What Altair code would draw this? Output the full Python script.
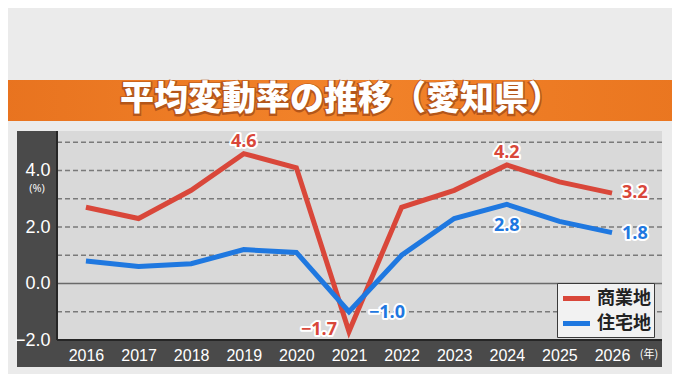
import altair as alt
import pandas as pd

# ---- data ----
years = [2016, 2017, 2018, 2019, 2020, 2021, 2022, 2023, 2024, 2025, 2026]
commercial = [2.7, 2.3, 3.3, 4.6, 4.1, -1.7, 2.7, 3.3, 4.2, 3.6, 3.2]   # 商業地
residential = [0.8, 0.6, 0.7, 1.2, 1.1, -1.0, 1.0, 2.3, 2.8, 2.2, 1.8]  # 住宅地
series_names = ["商業地", "住宅地"]
series_colors = ["#d9473a", "#1f78e0"]
y_label_values = [-2, 0, 2, 4]
grid_values = [-1, 1, 2, 3, 4, 5]
title_text = "平均変動率の推移（愛知県）"
y_unit = "(%)"
x_unit = "(年)"

# labelled points per series
red_above = [2019, 2024]
red_left = [2021]
red_right = [2026]
blue_right_far = [2021]
blue_right = [2026]
blue_below = [2024]

# ---- tables ----
df = pd.concat([
    pd.DataFrame({"year": years, "value": commercial, "series": series_names[0]}),
    pd.DataFrame({"year": years, "value": residential, "series": series_names[1]}),
], ignore_index=True)
grid_df = pd.DataFrame({"value": grid_values})
one = pd.DataFrame({"a": [0]})

W, H = 605, 209
NUM_FONT = "Liberation Sans Narrow, Liberation Sans, sans-serif"
JP_FONT = "Noto Sans CJK JP"
LBL_FONT = "Open Sans, Noto Sans, sans-serif"

x_scale = alt.Scale(domain=[2015.45, 2026.95], nice=False, zero=False)
y_scale = alt.Scale(domain=[-2, 5.4], nice=False, zero=False)
x_axis = alt.Axis(values=years, format="d", title=None, zindex=2, domain=False, ticks=False,
                  grid=False, labelColor="#ffffff", labelFont=NUM_FONT, labelFontSize=16,
                  labelPadding=7, labelFlush=False)
y_axis = alt.Axis(values=y_label_values, format=".1f", title=None, zindex=2, domain=False,
                  ticks=False, grid=False, labelColor="#ffffff", labelFont=NUM_FONT,
                  labelFontSize=18, labelPadding=7, labelFlush=False)


def X(field="year"):
    return alt.X(f"{field}:Q", scale=x_scale, axis=x_axis)


def Y(field="value"):
    return alt.Y(f"{field}:Q", scale=y_scale, axis=y_axis)


# ---- decoration ----
frame_left = alt.Chart(one).mark_rect(color="#4a4a4a").encode(
    x=alt.value(-40), x2=alt.value(0), y=alt.value(0), y2=alt.value(236))
frame_bottom = alt.Chart(one).mark_rect(color="#4a4a4a").encode(
    x=alt.value(-40), x2=alt.value(W), y=alt.value(H), y2=alt.value(236))
border_left = alt.Chart(one).mark_rule(color="#262626", strokeWidth=2).encode(
    x=alt.value(0), y=alt.value(0), y2=alt.value(H))
border_bottom = alt.Chart(one).mark_rule(color="#262626", strokeWidth=2).encode(
    x=alt.value(0), x2=alt.value(W), y=alt.value(H))
banner = alt.Chart(one).mark_rect(
    fill={"gradient": "linear", "x1": 0, "y1": 0, "x2": 1, "y2": 0,
          "stops": [{"offset": 0, "color": "#e8731f"},
                    {"offset": 0.5, "color": "#f2832a"},
                    {"offset": 1, "color": "#ea7620"}]}
).encode(x=alt.value(-60), x2=alt.value(W + 20), y=alt.value(-51), y2=alt.value(-10))
title_shadow = alt.Chart(one).mark_text(
    text=title_text, font=JP_FONT, fontSize=34, fontWeight=900,
    fill="#b4561a", stroke="#b4561a", strokeWidth=3, align="center", baseline="middle"
).encode(x=alt.value(284), y=alt.value(-30))
title = alt.Chart(one).mark_text(
    text=title_text, font=JP_FONT, fontSize=34, fontWeight=900,
    color="#ffffff", align="center", baseline="middle"
).encode(x=alt.value(284), y=alt.value(-31))
unit_y = alt.Chart(one).mark_text(
    text=y_unit, font=LBL_FONT, fontSize=11, color="#ffffff", align="center", baseline="middle"
).encode(x=alt.value(-20), y=alt.value(58))
unit_x = alt.Chart(one).mark_text(
    text=x_unit, font=JP_FONT, fontSize=11, color="#ffffff", align="center", baseline="middle"
).encode(x=alt.value(592), y=alt.value(224))

# ---- grid ----
grid = alt.Chart(grid_df).mark_rule(color="#7a7a7a", strokeWidth=1.5, strokeDash=[5, 3]).encode(y=Y())
zero = alt.Chart(pd.DataFrame({"value": [0]})).mark_rule(color="#6a6a6a", strokeWidth=1.5).encode(y=Y())

# ---- series ----
lines = alt.Chart(df).mark_line(strokeWidth=5, strokeCap="butt").encode(
    x=X(), y=Y(),
    color=alt.Color("series:N",
                    scale=alt.Scale(domain=series_names, range=series_colors),
                    sort=series_names,
                    legend=alt.Legend(
                        title=None, orient="none", legendX=500, legendY=152,
                        fillColor="#f2f2f2", strokeColor="#3a3a3a", padding=3,
                        symbolType="M-1.35,0H1.35", symbolStrokeWidth=5, symbolSize=400,
                        symbolOffset=4, labelOffset=8, rowPadding=2,
                        labelFont=JP_FONT, labelFontSize=18, labelFontWeight="bold",
                        labelColor="#222222")),
    detail="series:N",
)


def label_layer(series_idx, yrs, align, dx, dy):
    base = alt.Chart(df).transform_filter(
        alt.FieldEqualPredicate(field="series", equal=series_names[series_idx])
    ).transform_filter(
        alt.FieldOneOfPredicate(field="year", oneOf=yrs)
    ).transform_calculate(txt="format(datum.value, '.1f')")
    halo = base.mark_text(font=LBL_FONT, fontSize=18, fontWeight="bold", align=align,
                          baseline="middle", dx=dx, dy=dy, fill="#ffffff", stroke="#ffffff",
                          strokeWidth=4, strokeJoin="round").encode(x=X(), y=Y(), text="txt:N")
    txt = base.mark_text(font=LBL_FONT, fontSize=18, fontWeight="bold", align=align,
                         baseline="middle", dx=dx, dy=dy,
                         color=series_colors[series_idx]).encode(x=X(), y=Y(), text="txt:N")
    return [halo, txt]


labels = (label_layer(0, red_above, "center", 0, -12)
          + label_layer(0, red_left, "right", -12, -2)
          + label_layer(0, red_right, "left", 10, 0)
          + label_layer(1, blue_right_far, "left", 20, 1)
          + label_layer(1, blue_right, "left", 10, 1)
          + label_layer(1, blue_below, "center", 0, 22))

chart = alt.layer(
    banner, title_shadow, title, frame_left, frame_bottom, grid, zero,
    border_left, border_bottom, lines, *labels, unit_y, unit_x
).properties(
    width=W, height=H,
    padding={"left": 49, "top": 123, "right": 10, "bottom": 34},
    autosize=alt.AutoSizeParams(type="none"),
    background="#ebebeb",
).configure_view(
    fill="#d9d9d9", stroke=None
)

chart.save("out.html", embed_options={"renderer": "svg", "actions": False})
